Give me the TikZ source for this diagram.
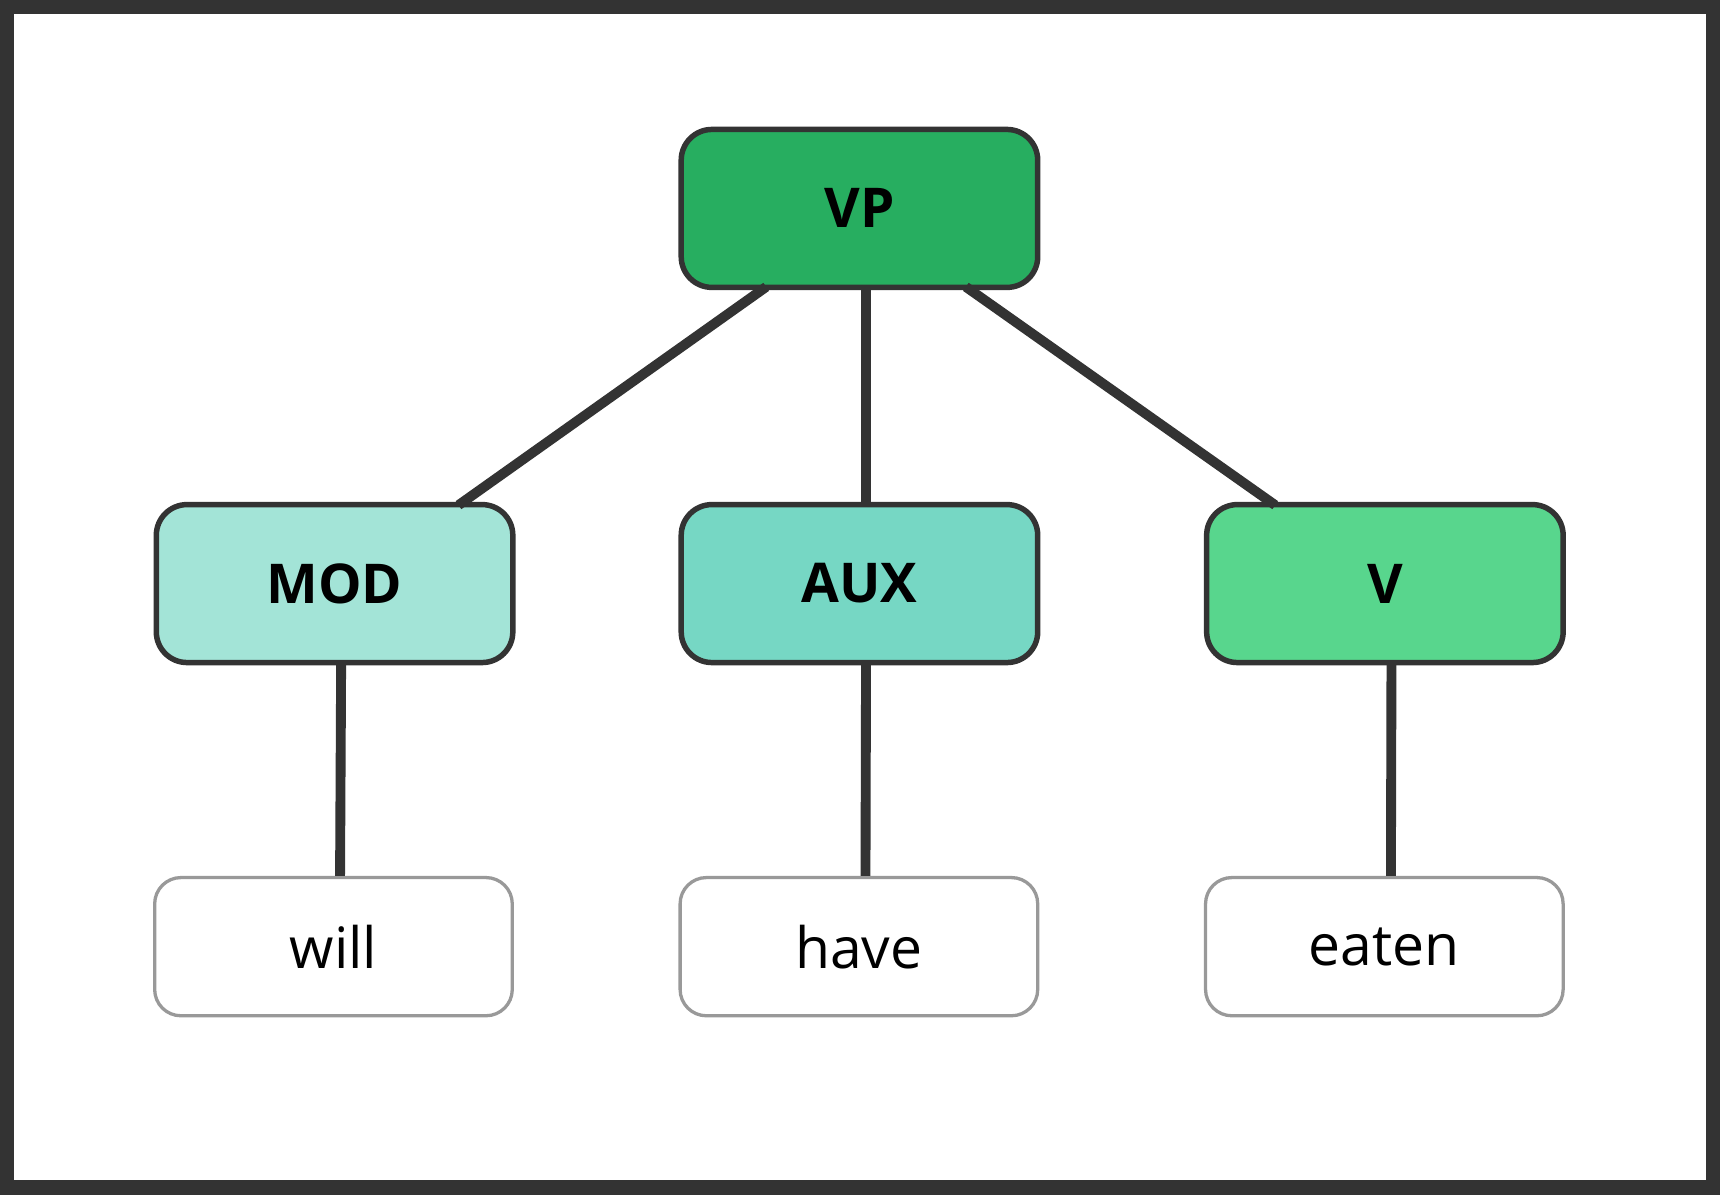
\documentclass[tikz,border=0pt]{standalone}
\usepackage{fontspec}
\setmainfont{Open Sans}
\usetikzlibrary{calc}
\definecolor{dk}{HTML}{333333}
\definecolor{cvp}{HTML}{27AE60}
\definecolor{cmod}{HTML}{A3E4D7}
\definecolor{caux}{HTML}{76D7C4}
\definecolor{cv}{HTML}{58D68D}
\begin{document}
\begin{tikzpicture}[x=1pt,y=-1pt,
  cat/.style={draw=dk,line width=5pt,rounded corners=28pt,minimum width=325pt,minimum height=144pt,font=\fontsize{50}{60}\selectfont\bfseries,text=black},
  leaf/.style={draw=black!40,line width=3pt,rounded corners=24pt,fill=white,minimum width=326pt,minimum height=126pt,font=\fontsize{52}{62}\selectfont},
  edge/.style={draw=dk,line width=9pt}]
\fill[dk] (0,0) rectangle (1568,1089);
\fill[white] (13,13) rectangle (1555,1076);
\useasboundingbox (0,0) rectangle (1568,1089);
\node[cat,fill=cvp] (VP) at (783.5,190) {VP};
\node[cat,fill=cmod] (MOD) at (305,532) {MOD};
\node[cat,fill=caux] (AUX) at (783.5,532) {AUX};
\node[cat,fill=cv] (V) at (1262.5,532) {V};
\node[leaf] (will) at (304,863) {will};
\node[leaf] (have) at (783,863) {have};
\node[leaf] (eaten) at (1262,863) {eaten};
\draw[edge] ($(VP.south)+(-85,-3)$) -- ($(MOD.north)+(113,3)$);
\draw[edge] ($(VP.south)+(6,-3)$) -- ($(AUX.north)+(6,3)$);
\draw[edge] ($(VP.south)+(97,-3)$) -- ($(V.north)+(-100,3)$);
\draw[edge] ($(MOD.south)+(6,-3)$) -- ($(will.north)+(6,0)$);
\draw[edge] ($(AUX.south)+(6,-3)$) -- ($(have.north)+(6,0)$);
\draw[edge] ($(V.south)+(6,-3)$) -- ($(eaten.north)+(6,0)$);
\end{tikzpicture}
\end{document}
